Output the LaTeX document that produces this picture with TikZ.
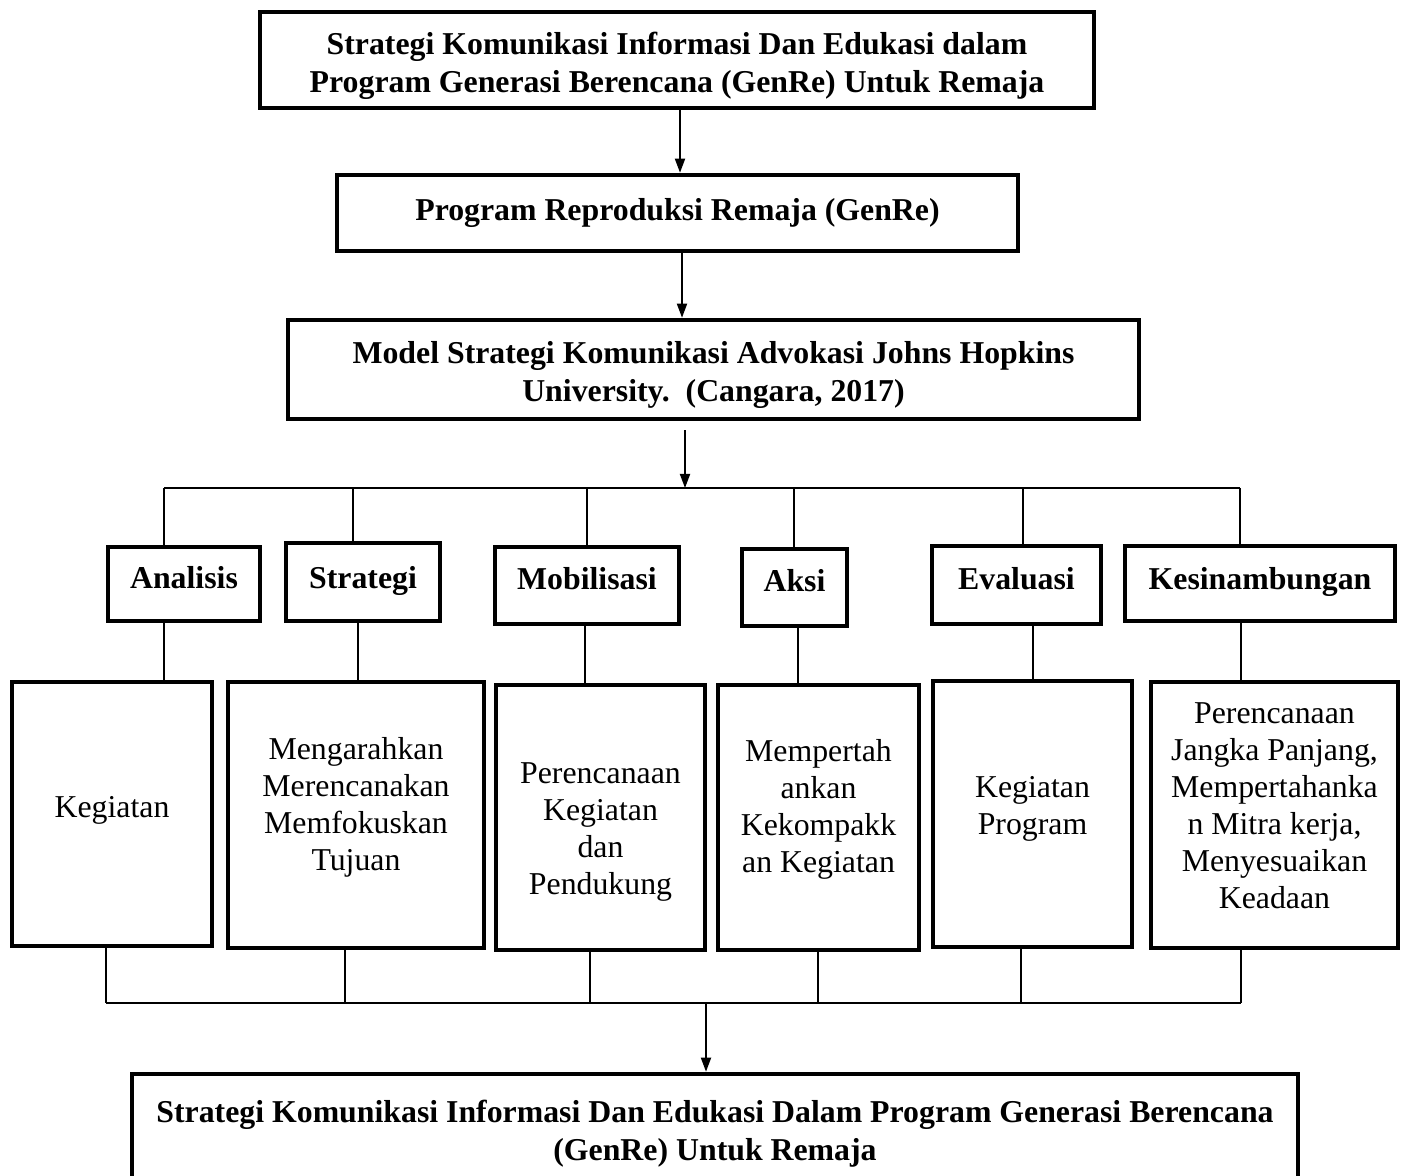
\documentclass[tikz,border=0pt]{standalone}
\usepackage{fontspec}
\setmainfont{Liberation Serif}
\usetikzlibrary{arrows.meta}
\begin{document}
\begin{tikzpicture}[x=0.5pt,y=-0.5pt,
  pos/.style n args={4}{minimum width={(#3-#1)*0.5pt}, minimum height={(#4-#2)*0.5pt}, at={({(#1+#3)/2},{(#2+#4)/2})}},
  frame/.style={draw, line width=2.3pt, inner sep=0pt},
  btxt/.style={inner sep=0pt, align=center, font=\fontsize{15.9}{19}\selectfont\bfseries},
  rtxt/.style={inner sep=0pt, align=center, font=\fontsize{15.9}{18.5}\selectfont},
  conn/.style={line width=0.9pt},
  arr/.style={line width=0.9pt, -{Triangle[length=7pt,width=5pt]}}]
\useasboundingbox (0,0) rectangle (1414,1176);
% top chain
\node[frame, pos={260}{12}{1094}{108}] (t1) {};
\node[btxt] (t1t) at ([yshift=-3pt]t1.center) {Strategi Komunikasi Informasi Dan Edukasi dalam\\Program Generasi Berencana (GenRe) Untuk Remaja};
\node[frame, pos={337}{175}{1018}{251}] (t2) {};
\node[btxt] (t2t) at (t2.center) {Program Reproduksi Remaja (GenRe)};
\node[frame, pos={288}{320}{1139}{419}] (t3) {};
\node[btxt] (t3t) at ([yshift=-2.5pt]t3.center) {Model Strategi Komunikasi Advokasi Johns Hopkins\\University.\ \ (Cangara, 2017)};
% level 2
\node[frame, pos={108}{547}{260}{621}] (a2) {};
\node[btxt] (a2t) at ([yshift=3pt]a2.center) {Analisis};
\node[frame, pos={286}{543}{440}{621}] (s2) {};
\node[btxt] (s2t) at ([yshift=0.5pt]s2.center) {Strategi};
\node[frame, pos={495}{547}{679}{624}] (m2) {};
\node[btxt] (m2t) at ([yshift=3.5pt]m2.center) {Mobilisasi};
\node[frame, pos={742}{549}{847}{626}] (k2) {};
\node[btxt] (k2t) at ([yshift=3.5pt]k2.center) {Aksi};
\node[frame, pos={932}{546}{1101}{624}] (e2) {};
\node[btxt] (e2t) at ([yshift=3pt]e2.center) {Evaluasi};
\node[frame, pos={1125}{546}{1395}{621}] (c2) {};
\node[btxt] (c2t) at ([yshift=1pt]c2.center) {Kesinambungan};
% level 3
\node[frame, pos={12}{682}{212}{946}] (a3) {};
\node[rtxt] (a3t) at ([yshift=2pt]a3.center) {Kegiatan};
\node[frame, pos={228}{682}{484}{948}] (s3) {};
\node[rtxt] (s3t) at ([yshift=4pt]s3.center) {Mengarahkan\\Merencanakan\\Memfokuskan\\Tujuan};
\node[frame, pos={496}{685}{705}{950}] (m3) {};
\node[rtxt] (m3t) at ([yshift=-7.5pt]m3.center) {Perencanaan\\Kegiatan\\dan\\Pendukung};
\node[frame, pos={718}{685}{919}{950}] (k3) {};
\node[rtxt] (k3t) at ([yshift=4pt]k3.center) {Mempertah\\ankan\\Kekompakk\\an Kegiatan};
\node[frame, pos={933}{681}{1132}{947}] (e3) {};
\node[rtxt] (e3t) at ([yshift=2.5pt]e3.center) {Kegiatan\\Program};
\node[frame, pos={1151}{682}{1398}{948}] (c3) {};
\node[rtxt] (c3t) at ([yshift=4.5pt]c3.center) {Perencanaan\\Jangka Panjang,\\Mempertahanka\\n Mitra kerja,\\Menyesuaikan\\Keadaan};
% bottom
\node[frame, pos={132}{1074}{1298}{1180}] (b) {};
\node[btxt] (bt) at ([yshift=-3.5pt]b.center) {Strategi Komunikasi Informasi Dan Edukasi Dalam Program Generasi Berencana\\(GenRe) Untuk Remaja};
% arrows top
\coordinate (ax) at (680,0);
\draw[arr] (t1.south -| ax) -- (t2.north -| ax);
\coordinate (ay) at (682,0);
\draw[arr] (t2.south -| ay) -- (t3.north -| ay);
\coordinate (bus) at (685,488);
\draw[arr, shorten <=4.5pt] (t3.south -| bus) -- (bus);
% top bus
\coordinate (dA) at (164,488);
\coordinate (dB) at (353,488);
\coordinate (dC) at (587,488);
\coordinate (dD) at (794,488);
\coordinate (dE) at (1023,488);
\coordinate (dF) at (1240,488);
\draw[conn] (dA) -- (dF);
\draw[conn] (dA) -- (dA |- a2.north);
\draw[conn] (dB) -- (dB |- s2.north);
\draw[conn] (dC) -- (dC |- m2.north);
\draw[conn] (dD) -- (dD |- k2.north);
\draw[conn] (dE) -- (dE |- e2.north);
\draw[conn] (dF) -- (dF |- c2.north);
% level 2 to level 3
\coordinate (xA) at (164,0);
\coordinate (xB) at (358,0);
\coordinate (xC) at (585,0);
\coordinate (xD) at (798,0);
\coordinate (xE) at (1033,0);
\coordinate (xF) at (1241,0);
\draw[conn] (a2.south -| xA) -- (a3.north -| xA);
\draw[conn] (s2.south -| xB) -- (s3.north -| xB);
\draw[conn] (m2.south -| xC) -- (m3.north -| xC);
\draw[conn] (k2.south -| xD) -- (k3.north -| xD);
\draw[conn] (e2.south -| xE) -- (e3.north -| xE);
\draw[conn] (c2.south -| xF) -- (c3.north -| xF);
% bottom bus
\coordinate (bA) at (106,1003);
\coordinate (bB) at (345,1003);
\coordinate (bC) at (590,1003);
\coordinate (bD) at (818,1003);
\coordinate (bE) at (1021,1003);
\coordinate (bF) at (1241,1003);
\draw[conn] (bA) -- (bF);
\draw[conn] (a3.south -| bA) -- (bA);
\draw[conn] (s3.south -| bB) -- (bB);
\draw[conn] (m3.south -| bC) -- (bC);
\draw[conn] (k3.south -| bD) -- (bD);
\draw[conn] (e3.south -| bE) -- (bE);
\draw[conn] (c3.south -| bF) -- (bF);
\coordinate (bM) at (706,1003);
\draw[arr] (bM) -- (b.north -| bM);
\end{tikzpicture}
\end{document}
